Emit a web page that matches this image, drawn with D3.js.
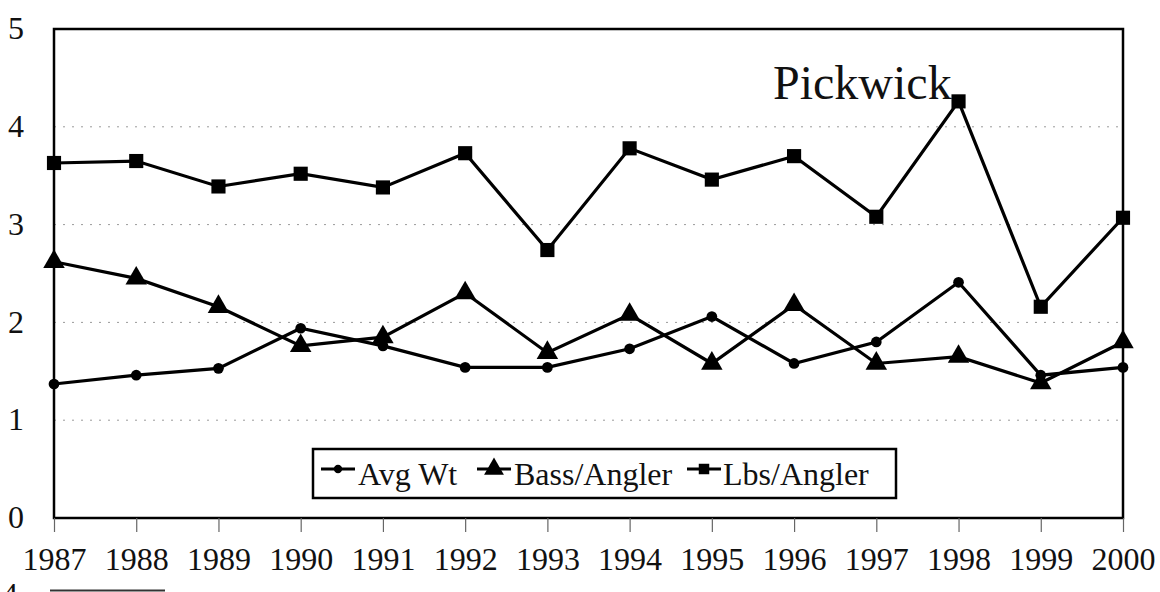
<!DOCTYPE html>
<meta charset='utf-8'>
<style>
body { margin: 0; background: #fff; }
svg text { font-family: 'Liberation Serif', 'Times New Roman', serif; fill: #111; }
.grid line { stroke: #9a9a9a; stroke-width: 1; stroke-dasharray: 2,7; }
.series { fill: none; stroke: #000; stroke-width: 3.2; }
</style>
<div id='chart'></div>
<script src='https://d3js.org/d3.v7.min.js'></script>
<script>
var years = [1987, 1988, 1989, 1990, 1991, 1992, 1993, 1994, 1995, 1996, 1997, 1998, 1999, 2000];
var avgWt = [1.37, 1.46, 1.53, 1.94, 1.76, 1.54, 1.54, 1.73, 2.06, 1.58, 1.80, 2.41, 1.46, 1.54];
var bassPerAngler = [2.62, 2.45, 2.16, 1.76, 1.85, 2.30, 1.69, 2.08, 1.58, 2.18, 1.58, 1.65, 1.38, 1.80];
var lbsPerAngler = [3.63, 3.65, 3.39, 3.52, 3.38, 3.73, 2.74, 3.78, 3.46, 3.70, 3.08, 4.26, 2.16, 3.07];
var yTicks = [0, 1, 2, 3, 4, 5];
var seriesNames = ['Avg Wt', 'Bass/Angler', 'Lbs/Angler'];
var chartTitle = 'Pickwick';

var width = 1160, height = 592;
var plot = {left: 54, right: 1123, top: 29, bottom: 518};

var svg = d3.select('#chart').append('svg')
  .attr('width', width)
  .attr('height', height);

var x = d3.scaleLinear().domain([1987, 2000]).range([plot.left, plot.right]);
var y = d3.scaleLinear().domain([0, 5]).range([plot.bottom, plot.top]);

// dotted gridlines
svg.append('g').attr('class', 'grid')
  .selectAll('line')
  .data(yTicks.filter(function(d) { return d > 0 && d < 5; }))
  .enter().append('line')
    .attr('x1', plot.left).attr('x2', plot.right)
    .attr('y1', function(d) { return y(d); })
    .attr('y2', function(d) { return y(d); });

// plot frame
svg.append('rect')
  .attr('x', plot.left).attr('y', plot.top)
  .attr('width', plot.right - plot.left)
  .attr('height', plot.bottom - plot.top)
  .attr('fill', 'none').attr('stroke', '#000').attr('stroke-width', 2.5);

// x axis: ticks below the frame
var xAxis = svg.append('g')
  .attr('transform', 'translate(0,' + plot.bottom + ')')
  .call(d3.axisBottom(x).tickValues(years).tickSize(14).tickPadding(0).tickFormat(d3.format('d')));
xAxis.select('.domain').remove();
xAxis.selectAll('.tick line').attr('stroke', '#666').attr('stroke-width', 1.2);
xAxis.selectAll('.tick text').style('font-size', '32px').attr('y', 52).attr('dy', null);

// y axis labels only
var yAxis = svg.append('g')
  .attr('transform', 'translate(16,0)')
  .call(d3.axisLeft(y).tickValues(yTicks).tickSize(0).tickPadding(0).tickFormat(d3.format('d')));
yAxis.select('.domain').remove();
yAxis.selectAll('.tick text').style('font-size', '32px').attr('text-anchor', 'middle').attr('x', 0).attr('dy', '0.30em');

var line = d3.line()
  .x(function(d, i) { return x(years[i]); })
  .y(function(d) { return y(d); });

var allSeries = [avgWt, bassPerAngler, lbsPerAngler];
var symbols = [d3.symbolCircle, d3.symbolTriangle, d3.symbolSquare];
var symSizes = [90, 200, 200];

allSeries.forEach(function(vals, s) {
  svg.append('path').attr('class', 'series').attr('d', line(vals));
  svg.append('g').selectAll('path')
    .data(vals)
    .enter().append('path')
      .attr('transform', function(d, i) { return 'translate(' + x(years[i]) + ',' + y(d) + ')'; })
      .attr('d', d3.symbol().type(symbols[s]).size(symSizes[s]))
      .attr('fill', '#000');
});

// title inside plot
svg.append('text')
  .attr('x', 773).attr('y', 99)
  .style('font-size', '48px')
  .text(chartTitle);

// legend
var legend = svg.append('g');
legend.append('rect')
  .attr('x', 313).attr('y', 449).attr('width', 583).attr('height', 49)
  .attr('fill', '#fff').attr('stroke', '#000').attr('stroke-width', 2.5);
var legendX = [321, 477, 687];
var legendSym = [55, 170, 110];
seriesNames.forEach(function(name, s) {
  var g = legend.append('g').attr('transform', 'translate(' + legendX[s] + ',469)');
  g.append('line').attr('x1', 0).attr('x2', 34).attr('y1', 0).attr('y2', 0)
    .attr('stroke', '#000').attr('stroke-width', 3);
  g.append('path').attr('transform', 'translate(17,0)')
    .attr('d', d3.symbol().type(symbols[s]).size(legendSym[s])).attr('fill', '#000');
  g.append('text').attr('x', s === 2 ? 36 : 37).attr('y', 16).style('font-size', '32px').text(name);
});

// remnant of the next chart at the page edge
svg.append('text').attr('x', 2).attr('y', 605).style('font-size', '32px').text('4');
svg.append('line').attr('x1', 50).attr('x2', 165).attr('y1', 590.5).attr('y2', 590.5)
  .attr('stroke', '#333').attr('stroke-width', 2);
</script>
